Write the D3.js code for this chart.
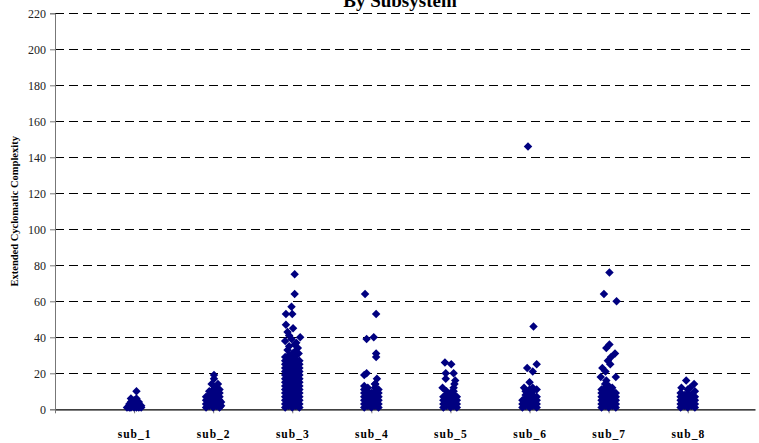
<!DOCTYPE html>
<html>
<head>
<meta charset="utf-8">
<script src="https://cdn.jsdelivr.net/npm/d3@7"></script>
<style>
  html, body { margin: 0; padding: 0; background: #fff; }
  svg { display: block; }
</style>
</head>
<body>
<div id="chart"></div>
<script>
// ---- data ----
const categories = ["sub_1", "sub_2", "sub_3", "sub_4", "sub_5", "sub_6", "sub_7", "sub_8"];
const yTicks = [0, 20, 40, 60, 80, 100, 120, 140, 160, 180, 200, 220];

// each entry: [x value (jittered), list of y values]
const sub1 = [
  [0.91, [1]], [0.94, [1, 2, 3]], [0.96, [1, 2, 4, 6]], [1.0, [1, 2, 3, 5]],
  [1.03, [1, 3, 6, 10]], [1.06, [1, 2, 4]], [1.09, [1, 2]],
];
const sub2 = [
  [1.91, [1, 3, 5, 7]], [1.95, [2, 4, 6, 8, 10]], [2.0, [1, 3, 5, 7, 9, 11]],
  [2.04, [2, 4, 6, 8, 10]], [2.08, [1, 3, 5, 7, 9, 11]], [2.1, [2, 4]],
  [2.01, [19, 17]], [1.98, [14]], [2.06, [14]], [2.03, [12]],
];
const sub3 = [
  [2.91, [1, 3, 5, 7, 9, 11, 13, 15, 17, 19, 21, 23, 25, 27, 29]],
  [2.955, [2, 4, 6, 8, 10, 12, 14, 16, 18, 20, 22, 24, 26, 28, 30]],
  [3.0, [1, 3, 5, 7, 9, 11, 13, 15, 17, 19, 21, 23, 25, 27, 29, 31]],
  [3.045, [2, 4, 6, 8, 10, 12, 14, 16, 18, 20, 22, 24, 26, 28, 30]],
  [3.09, [1, 3, 5, 7, 9, 11, 13, 15, 17, 19, 21, 23, 25, 27]],
  [3.03, [75, 64, 36, 32]], [2.99, [57, 39]], [2.92, [53, 47]], [3.0, [53]],
  [3.01, [45]], [2.94, [43, 33]], [3.1, [40]], [2.91, [38]], [3.07, [34]],
  [2.96, [41, 35]], [3.05, [37]], [3.08, [31]],
];
const sub4 = [
  [3.91, [1, 3, 5, 7, 9, 11, 13]], [3.955, [2, 4, 6, 8, 10, 12]],
  [4.0, [1, 3, 5, 7, 9]], [4.045, [2, 4, 6, 8, 10, 12, 14]], [4.09, [1, 3, 5, 7, 9, 11]],
  [3.92, [64]], [4.06, [53, 31, 29]], [3.94, [39, 20]], [4.03, [40]],
  [3.91, [19]], [4.07, [17]], [4.05, [14]],
];
const sub5 = [
  [4.91, [1, 3, 5, 7]], [4.95, [2, 4, 6, 8, 10]], [5.0, [1, 3, 5, 7, 9]],
  [5.04, [2, 4, 6, 8, 10]], [5.08, [1, 3, 5, 7]],
  [4.93, [26]], [5.01, [25]], [4.94, [20, 17]], [5.04, [20, 12]], [5.06, [16]],
  [4.9, [12]], [5.05, [14]],
];
const sub6 = [
  [5.91, [1, 3, 5]], [5.95, [2, 4, 6, 8, 10]], [6.0, [1, 3, 5, 7, 9, 11]],
  [6.04, [2, 4, 6, 8, 10, 12]], [6.09, [1, 3, 5, 7]],
  [5.98, [146]], [6.05, [46]], [5.97, [23]], [6.09, [25, 11]], [6.04, [21]],
  [6.0, [15]], [5.93, [12]],
];
const sub7 = [
  [6.91, [1, 3, 5, 7, 9, 11]], [6.955, [2, 4, 6, 8, 10, 12, 14]],
  [7.0, [1, 3, 5, 7, 9, 11, 13]], [7.045, [2, 4, 6, 8, 10, 12]], [7.09, [1, 3, 5, 7, 9]],
  [7.01, [76, 36]], [6.94, [64]], [7.1, [60]], [6.97, [34, 16]], [7.08, [31]],
  [7.03, [29]], [6.99, [27]], [7.02, [25]], [6.92, [23]], [6.96, [21]],
  [6.9, [18]], [7.09, [18]],
];
const sub8 = [
  [7.91, [1, 3, 5, 7, 9]], [7.955, [2, 4, 6, 8]], [8.0, [1, 3, 5, 7, 9, 11]],
  [8.045, [2, 4, 6, 8]], [8.09, [1, 3, 5, 7]],
  [7.98, [16]], [8.08, [14]], [7.92, [12]], [8.03, [12]], [8.09, [10]],
];

const groups = [sub1, sub2, sub3, sub4, sub5, sub6, sub7, sub8];

// ---- chart ----
const width = 759;
const height = 443;

const svg = d3
  .select("#chart")
  .append("svg")
  .attr("width", width)
  .attr("height", height);

const x = d3.scaleLinear().domain([0, 8.85]).range([55, 755]);
const y = d3.scaleLinear().domain([0, 220]).range([409.3, 13.3]);

// title (only the lower line is in view, as in the original)
svg.append("text")
  .attr("x", 400)
  .attr("y", 7)
  .attr("text-anchor", "middle")
  .style("font-family", "'Liberation Serif', serif")
  .style("font-weight", "bold")
  .style("font-size", "19px")
  .text("By Subsystem");

// gridlines
svg.append("g")
  .selectAll("line")
  .data(yTicks.filter((d) => d > 0))
  .enter()
  .append("line")
  .attr("x1", x(0))
  .attr("x2", x(8.85))
  .attr("y1", (d) => Math.round(y(d)) + 0.5)
  .attr("y2", (d) => Math.round(y(d)) + 0.5)
  .style("stroke", "#000")
  .style("stroke-width", 1)
  .style("stroke-dasharray", "9,5");

// y axis
const yAxis = d3.axisLeft(y).tickValues(yTicks).tickSize(5).tickPadding(4);
const yG = svg.append("g")
  .attr("transform", `translate(${x(0)},0)`)
  .call(yAxis);
yG.attr("font-family", null);
yG.select(".domain").style("stroke", "#777");
yG.selectAll(".tick line").style("stroke", "#777");
yG.selectAll("text")
  .style("font-family", "'Liberation Serif', serif")
  .style("font-size", "12px")
  .style("fill", "#222");

// x axis
const xAxis = d3
  .axisBottom(x)
  .tickValues([0, 1, 2, 3, 4, 5, 6, 7, 8])
  .tickSize(4)
  .tickSizeOuter(0)
  .tickFormat((d) => (d === 0 ? "" : categories[d - 1]))
  .tickPadding(17);
const xG = svg.append("g")
  .attr("transform", `translate(0,${y(0)})`)
  .call(xAxis);
xG.attr("font-family", null);
xG.select(".domain").style("stroke", "#000").style("stroke-width", 1.3);
xG.selectAll(".tick line").style("stroke", "#777");
xG.selectAll("text")
  .style("font-family", "'Liberation Serif', serif")
  .style("font-weight", "bold")
  .style("font-size", "11.5px")
  .style("letter-spacing", "1px")
  .style("fill", "#000");

// axis title
svg.append("text")
  .attr("transform", `translate(18,${y(110)}) rotate(-90)`)
  .attr("text-anchor", "middle")
  .style("font-family", "'Liberation Serif', serif")
  .style("font-weight", "bold")
  .style("font-size", "10.5px")
  .text("Extended Cyclomatic Complexity");

// points
const points = groups.flatMap((g) => g.flatMap(([xv, ys]) => ys.map((yv) => ({ x: xv, y: yv }))));
const diamond = d3.symbol().type(d3.symbolSquare).size(36);

svg.append("g")
  .selectAll("path")
  .data(points)
  .enter()
  .append("path")
  .attr("d", diamond)
  .attr("transform", (d) => `translate(${x(d.x)},${y(d.y)}) rotate(45)`)
  .style("fill", "#000080");
</script>
</body>
</html>
